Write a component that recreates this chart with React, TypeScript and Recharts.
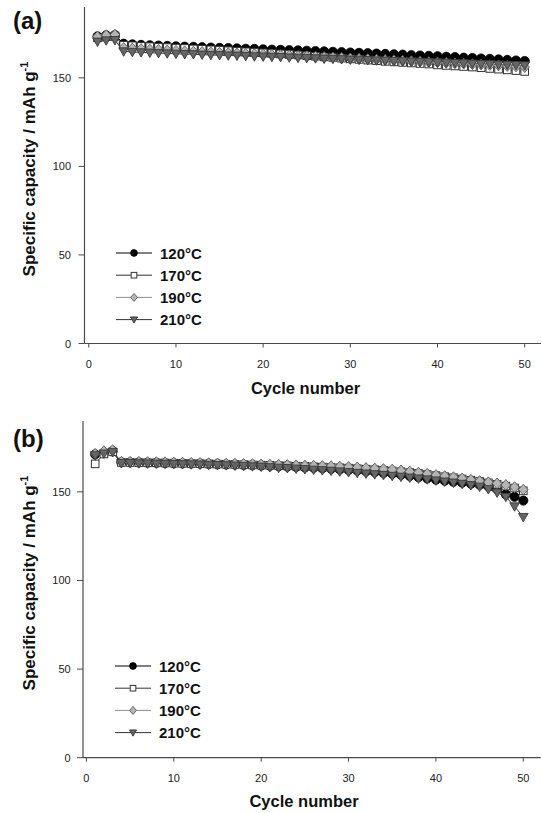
import React from 'react';
import { LineChart, Line, XAxis, YAxis, Legend } from 'recharts';

const cycles = [1,2,3,4,5,6,7,8,9,10,11,12,13,14,15,16,17,18,19,20,21,22,23,24,25,26,27,28,29,30,31,32,33,34,35,36,37,38,39,40,41,42,43,44,45,46,47,48,49,50];

// Panel (a)
const a120 = [173.4,174.0,174.2,169.3,168.9,168.6,168.4,168.2,168.0,167.8,167.6,167.5,167.3,167.1,166.9,166.8,166.6,166.4,166.3,166.1,165.9,165.8,165.6,165.5,165.3,165.1,164.9,164.7,164.5,164.3,164.1,163.9,163.7,163.5,163.3,163.1,162.8,162.6,162.4,162.2,161.9,161.7,161.4,161.2,160.9,160.7,160.4,160.1,159.8,159.5];
const a170 = [172.6,173.4,173.6,168.4,168.1,167.8,167.6,167.3,167.1,166.8,166.6,166.3,166.1,165.8,165.6,165.3,165.0,164.7,164.4,164.1,163.8,163.5,163.2,162.9,162.5,162.2,161.8,161.5,161.1,160.7,160.4,160.0,159.7,159.3,159.0,158.7,158.4,158.1,157.8,157.3,157.0,156.7,156.4,156.1,155.7,155.3,154.9,154.5,154.1,153.6];
const a190 = [173.2,174.1,174.4,166.9,166.6,166.3,166.0,165.8,165.5,165.3,165.0,164.8,164.6,164.4,164.2,164.0,163.8,163.6,163.4,163.2,163.0,162.8,162.6,162.4,162.2,162.0,161.7,161.5,161.3,161.0,160.8,160.6,160.3,160.1,159.9,159.6,159.4,159.2,158.9,158.7,158.5,158.2,158.0,157.7,157.5,157.2,157.0,156.7,156.4,156.1];
const a210 = [170.4,171.1,171.3,164.9,164.6,164.4,164.2,164.0,163.8,163.6,163.4,163.3,163.1,162.9,162.8,162.6,162.5,162.3,162.1,162.0,161.8,161.7,161.5,161.3,161.2,161.0,160.8,160.7,160.5,160.3,160.2,160.0,159.8,159.7,159.5,159.3,159.2,159.0,158.8,158.7,158.5,158.3,158.2,158.0,157.8,157.7,157.5,157.3,157.2,157.0];

// Panel (b)
const b120 = [171.2,172.2,172.9,166.7,166.7,166.6,166.5,166.4,166.3,166.2,166.1,166.0,165.9,165.8,165.6,165.5,165.4,165.2,165.1,164.9,164.7,164.5,164.3,164.1,163.8,163.6,163.3,163.0,162.7,162.4,162.0,161.6,161.2,160.7,160.2,159.6,159.0,158.3,157.6,156.9,156.3,155.7,155.2,154.6,154.0,153.1,151.5,148.6,147.2,145.1];
const b170 = [165.8,171.4,172.6,166.6,166.6,166.5,166.4,166.4,166.3,166.2,166.1,166.0,165.9,165.8,165.7,165.6,165.5,165.4,165.2,165.1,165.0,164.8,164.7,164.5,164.4,164.2,164.0,163.8,163.6,163.4,163.1,162.8,162.5,162.2,161.8,161.4,160.9,160.4,159.8,159.2,158.6,158.0,157.3,156.6,155.9,155.1,154.3,153.3,152.2,150.6];
const b190 = [171.5,173.0,173.6,167.0,167.0,166.9,166.8,166.8,166.7,166.6,166.5,166.4,166.3,166.2,166.1,166.0,165.9,165.8,165.7,165.5,165.4,165.3,165.2,165.0,164.9,164.8,164.6,164.5,164.3,164.1,163.8,163.5,163.2,162.9,162.6,162.1,161.5,160.9,160.2,159.5,158.9,158.3,157.6,156.8,156.1,155.4,154.8,153.9,152.7,151.3];
const b210 = [170.6,171.6,172.4,166.2,166.2,166.1,166.0,165.9,165.8,165.7,165.6,165.5,165.4,165.2,165.1,165.0,164.8,164.6,164.4,164.2,163.9,163.6,163.4,163.1,162.8,162.5,162.2,161.9,161.5,161.1,160.7,160.3,159.9,159.5,159.0,158.5,158.0,157.5,157.0,156.4,155.8,155.2,154.5,153.8,152.9,151.5,149.6,147.2,141.8,135.8];

const seriesKeys = ['s120', 's170', 's190', 's210'];
const seriesNames = ['120°C', '170°C', '190°C', '210°C'];
const xTicks = [0, 10, 20, 30, 40, 50];
const yTicks = [0, 50, 100, 150];

const FONT = '"Liberation Sans", Arial, Helvetica, sans-serif';

function makeRows(s1: number[], s2: number[], s3: number[], s4: number[]) {
  return cycles.map((c, i) => ({ cycle: c, s120: s1[i], s170: s2[i], s190: s3[i], s210: s4[i] }));
}

const dataA = makeRows(a120, a170, a190, a210);
const dataB = makeRows(b120, b170, b190, b210);

const STYLES: Record<string, { line: string; shape: string; fill: string; stroke: string }> = {
  s120: { line: '#000000', shape: 'circle', fill: '#000000', stroke: '#000000' },
  s170: { line: '#333333', shape: 'square', fill: '#ffffff', stroke: '#333333' },
  s190: { line: '#8f8f8f', shape: 'diamond', fill: '#b4b4b4', stroke: '#5e5e5e' },
  s210: { line: '#333333', shape: 'triangle', fill: '#666666', stroke: '#383838' },
};

function Marker({ shape, x, y, fill, stroke, s = 1 }: { shape: string; x: number; y: number; fill: string; stroke: string; s?: number }) {
  if (shape === 'circle') return <circle cx={x} cy={y} r={4.6 * s} fill={fill} stroke={stroke} strokeWidth={0.8} />;
  if (shape === 'square') return <rect x={x - 3.8 * s} y={y - 3.8 * s} width={7.6 * s} height={7.6 * s} fill={fill} stroke={stroke} strokeWidth={1} />;
  if (shape === 'diamond')
    return <path d={`M${x},${y - 5.4 * s}L${x + 4.7 * s},${y}L${x},${y + 5.4 * s}L${x - 4.7 * s},${y}Z`} fill={fill} stroke={stroke} strokeWidth={0.9} />;
  return <path d={`M${x - 4.8 * s},${y - 3.6 * s}L${x + 4.8 * s},${y - 3.6 * s}L${x},${y + 4.8 * s}Z`} fill={fill} stroke={stroke} strokeWidth={0.9} />;
}

function makeDot(key: string) {
  const st = STYLES[key];
  return (p: any) => {
    if (p == null || p.cx == null || p.cy == null) return <g key={`${key}-e-${p?.index}`} />;
    return (
      <g key={`${key}-${p.index}`}>
        <Marker shape={st.shape} x={p.cx} y={p.cy} fill={st.fill} stroke={st.stroke} />
      </g>
    );
  };
}

const LegendBox = () => (
  <svg width={120} height={92} style={{ display: 'block', overflow: 'visible' }}>
    {seriesKeys.map((k, i) => {
      const y = 11 + i * 22.2;
      const st = STYLES[k];
      return (
        <g key={k}>
          <line x1={4} x2={40} y1={y} y2={y} stroke={st.line} strokeWidth={1} />
          <Marker shape={st.shape} x={22} y={y} fill={st.fill} stroke={st.stroke} s={0.74} />
          <text x={48} y={y + 5.5} fontFamily={FONT} fontSize={15} fontWeight="bold" fill="#111">
            {seriesNames[i]}
          </text>
        </g>
      );
    })}
  </svg>
);

const XLabel = (props: any) => (
  <text x={props.cx0} y={props.by} textAnchor="middle" fontFamily={FONT} fontSize={16.5} fontWeight="bold" fill="#111">
    Cycle number
  </text>
);

const YLabel = (props: any) => (
  <text
    x={props.cx0}
    y={props.cy0}
    transform={`rotate(-90 ${props.cx0} ${props.cy0})`}
    textAnchor="middle"
    fontFamily={FONT}
    fontSize={17}
    fontWeight="bold"
    fill="#111"
  >
    Specific capacity / mAh g<tspan fontSize={11} dy={-7}>-1</tspan>
  </text>
);

const AXIS = '#4a4a4a';

function Panel(props: {
  data: any[];
  height: number;
  margin: { top: number; right: number; bottom: number; left: number };
  yWidth: number;
  xHeight: number;
  xDomain: [number, number];
  xTickBaseline: number;
  yTickRight: number;
  xLabelX: number;
  xLabelY: number;
  yLabelX: number;
  yLabelY: number;
  legendLeft: number;
  legendTop: number;
}) {
  const xTick = (p: any) => (
    <text key={`xt-${p.payload?.value}`} x={p.x} y={props.xTickBaseline} textAnchor="middle" fontFamily={FONT} fontSize={11} fill="#222">
      {p.payload?.value}
    </text>
  );
  const yTick = (p: any) => (
    <text key={`yt-${p.payload?.value}`} x={props.yTickRight} y={p.y + 4} textAnchor="end" fontFamily={FONT} fontSize={11} fill="#222">
      {p.payload?.value}
    </text>
  );
  return (
    <LineChart width={542} height={props.height} data={props.data} margin={props.margin}>
      <XAxis
        dataKey="cycle"
        type="number"
        domain={props.xDomain}
        ticks={xTicks}
        interval={0}
        allowDataOverflow
        height={props.xHeight}
        tickSize={4}
        axisLine={{ stroke: AXIS, strokeWidth: 1.2 }}
        tickLine={{ stroke: AXIS }}
        tick={xTick}
        label={<XLabel cx0={props.xLabelX} by={props.xLabelY} />}
      />
      <XAxis
        xAxisId="top"
        orientation="top"
        dataKey="cycle"
        type="number"
        domain={props.xDomain}
        allowDataOverflow
        height={0}
        tick={false}
        tickLine={false}
        axisLine={{ stroke: AXIS, strokeWidth: 1.2 }}
      />
      <YAxis
        type="number"
        domain={[0, 190]}
        ticks={yTicks}
        interval={0}
        allowDataOverflow
        width={props.yWidth}
        tickSize={6}
        axisLine={{ stroke: AXIS, strokeWidth: 1.2 }}
        tickLine={{ stroke: AXIS }}
        tick={yTick}
        label={<YLabel cx0={props.yLabelX} cy0={props.yLabelY} />}
      />
      <YAxis
        yAxisId="right"
        orientation="right"
        type="number"
        domain={[0, 190]}
        allowDataOverflow
        width={0}
        tick={false}
        tickLine={false}
        axisLine={{ stroke: AXIS, strokeWidth: 1.2 }}
      />
      {seriesKeys.map((k, i) => (
        <Line
          key={k}
          dataKey={k}
          name={seriesNames[i]}
          stroke={STYLES[k].line}
          strokeWidth={1}
          dot={makeDot(k)}
          activeDot={false}
          isAnimationActive={false}
        />
      ))}
      <Legend
        layout="vertical"
        align="center"
        verticalAlign="middle"
        content={<LegendBox />}
        wrapperStyle={{ position: 'absolute', left: props.legendLeft, top: props.legendTop, width: 120, height: 92 }}
      />
    </LineChart>
  );
}

export default function App() {
  return (
    <div style={{ position: 'absolute', left: 0, top: 0, width: 542, height: 813, background: '#fff' }}>
      <div style={{ position: 'absolute', left: 0, top: 0 }}>
        <Panel
          data={dataA}
          height={400}
          margin={{ top: 7, right: 1, bottom: 0, left: 0 }}
          yWidth={84.5}
          xHeight={56.5}
          xDomain={[-0.49, 51.87]}
          xTickBaseline={368}
          yTickRight={71}
          xLabelX={305.5}
          xLabelY={393.5}
          yLabelX={35}
          yLabelY={169}
          legendLeft={112}
          legendTop={241.7}
        />
      </div>
      <div style={{ position: 'absolute', left: 0, top: 400 }}>
        <Panel
          data={dataB}
          height={413}
          margin={{ top: 21, right: 1.3, bottom: 0, left: 0 }}
          yWidth={83}
          xHeight={55.3}
          xDomain={[-0.39, 51.99]}
          xTickBaseline={381.5}
          yTickRight={70.7}
          xLabelX={304}
          xLabelY={407}
          yLabelX={35}
          yLabelY={183}
          legendLeft={111}
          legendTop={254.7}
        />
      </div>
      <svg width={542} height={813} style={{ position: 'absolute', left: 0, top: 0, pointerEvents: 'none' }}>
        <text x={13} y={29.3} fontFamily={FONT} fontSize={24} fontWeight="bold" fill="#111">(a)</text>
        <text x={13} y={446.7} fontFamily={FONT} fontSize={24} fontWeight="bold" fill="#111">(b)</text>
      </svg>
    </div>
  );
}
